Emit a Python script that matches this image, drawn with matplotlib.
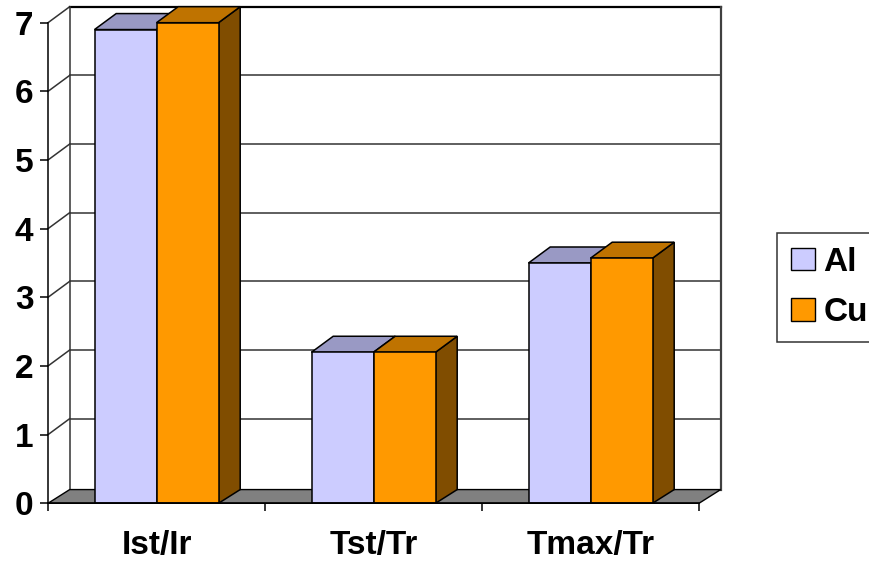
import numpy as np
import matplotlib
matplotlib.use("Agg")
import matplotlib.pyplot as plt
from matplotlib.patches import Polygon, Rectangle, Patch

plt.rcParams['font.family'] = ['Liberation Sans', 'DejaVu Sans']
plt.rcParams['font.weight'] = 'bold'

categories = ["Ist/Ir", "Tst/Tr", "Tmax/Tr"]
al_values = [6.9, 2.2, 3.5]
cu_values = [7.0, 2.2, 3.57]
series_names = ["Al", "Cu"]

# front face, top face, side face
al_colors = ("#CCCCFF", "#9999C4", "#666680")
cu_colors = ("#FF9900", "#BF7300", "#804D00")

ymax = 7
ncat = len(categories)
bar_w = 1 / 3.5            # gap width 150%
DX, DY = 0.1, 0.233        # depth offset of the back wall (data units)
DYF = 0.2                  # depth offset of the floor

fig = plt.figure(figsize=(8.7, 5.62), dpi=100)
ax = fig.add_axes([48 / 870, (562 - 503.3) / 562, (699 - 48) / 870, (503.3 - 22.7) / 562])
ax.set_xlim(0, ncat)
ax.set_ylim(0, ymax)

wall_kw = dict(color="#333333", lw=1.1, clip_on=False, zorder=1)

# back wall gridlines and left side wall diagonals
for k in range(1, ymax + 1):
    ax.plot([DX, ncat + DX], [k + DY, k + DY], **wall_kw)
    ax.plot([0, DX], [k, k + DY], **wall_kw)
ax.plot([DX, ncat + DX], [ymax + DY, ymax + DY], color="black", lw=1.6,
        clip_on=False, zorder=1)
ax.plot([DX, DX], [DYF, ymax + DY], **wall_kw)
ax.plot([ncat + DX, ncat + DX], [DYF, ymax + DY], color="#404040", lw=1.6,
        clip_on=False, zorder=1)

# floor
floor = Polygon([(0, 0), (ncat, 0), (ncat + DX, DYF), (DX, DYF)],
                closed=True, facecolor="#808080", edgecolor="black", lw=1,
                clip_on=False, zorder=2)
ax.add_patch(floor)


def draw_bar(x0, v, colors):
    x1 = x0 + bar_w
    front, top, side = colors
    edge = dict(edgecolor="black", lw=1.1, clip_on=False, zorder=3)
    ax.add_patch(Polygon([(x1, 0), (x1 + DX, DYF), (x1 + DX, v + DY), (x1, v)],
                         closed=True, facecolor=side, **edge))
    ax.add_patch(Polygon([(x0, v), (x1, v), (x1 + DX, v + DY), (x0 + DX, v + DY)],
                         closed=True, facecolor=top, **edge))
    ax.add_patch(Rectangle((x0, 0), bar_w, v, facecolor=front, **edge))


for i in range(ncat):
    c = i + 0.5
    draw_bar(c - bar_w, al_values[i], al_colors)
    draw_bar(c, cu_values[i], cu_colors)

for s in ("top", "right"):
    ax.spines[s].set_visible(False)
for s in ("left", "bottom"):
    ax.spines[s].set_linewidth(1.1)
    ax.spines[s].set_zorder(4)
ax.patch.set_alpha(0)

ax.set_yticks(range(ymax + 1))
ax.tick_params(axis="y", length=6, width=1.1, pad=4.5, labelsize=24)
ax.set_xticks(range(ncat + 1))
ax.set_xticklabels([])
ax.set_xticks(np.arange(ncat) + 0.5, minor=True)
ax.set_xticklabels(categories, minor=True)
ax.tick_params(axis="x", which="major", length=6, width=1.1)
ax.tick_params(axis="x", which="minor", length=0, pad=19, labelsize=24)
for lab in ax.get_yticklabels() + ax.get_xticklabels(minor=True):
    lab.set_fontweight("bold")

handles = [Patch(facecolor=al_colors[0], edgecolor="black", lw=1),
           Patch(facecolor=cu_colors[0], edgecolor="black", lw=1)]
leg = fig.legend(handles, series_names, loc="upper left",
                 bbox_to_anchor=(777.3 / 870, 1 - 232.7 / 562),
                 bbox_transform=fig.transFigure, borderaxespad=0,
                 fancybox=False, frameon=True,
                 prop=dict(weight="bold", size=24),
                 handlelength=0.72, handleheight=0.66, handletextpad=0.25,
                 borderpad=0.42, labelspacing=0.58)
leg.get_frame().set_edgecolor("black")
leg.get_frame().set_linewidth(1.1)

fig.savefig("out.png", dpi=100)
